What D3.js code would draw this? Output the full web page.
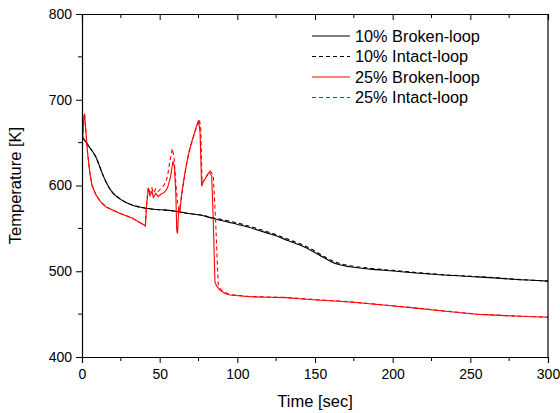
<html>
<head>
<meta charset="utf-8">
<script src="https://cdn.jsdelivr.net/npm/d3@7"></script>
<style>
  body { margin: 0; background: #fff; }
  text { font-family: Arial, "Liberation Sans", sans-serif; fill: #000; }
</style>
</head>
<body>
<div id="chart"></div>
<script>
// time [sec], temperature [K]
var b10 = [[0,657],[2,652],[4.7,645],[7,639],[9,633],[11,624],[13.3,613],[15.5,604],[17.6,597],[20,591],[24,585],[28,580.5],[32.6,577],[37,575],[41.2,573.4],[48,572],[54,571.3],[62,569.5],[70,567],[76,565.6],[84.5,561.5],[95,557],[103.8,553],[115,547],[125.3,541],[133,535.5],[140.3,530.5],[149,522.8],[155,516.5],[160,511.5],[166,507.5],[172.5,505.3],[185,502.5],[200.4,500.3],[215,498],[232.6,495.6],[252,493.6],[265,492.3],[277.7,490.6],[300,488.5]];
var i10 = [[0,657],[2,652],[4.7,645],[7,639],[9,633],[11,624],[13.3,613],[15.5,604],[17.6,597],[20,591],[24,585],[28,580.5],[32.6,577],[37,575],[41.2,573.4],[48,572],[54,571.3],[62,569.5],[70,567],[76,565.8],[84.5,562.3],[95,558.3],[103.8,554.5],[115,548.5],[125.3,542.5],[133,537],[140.3,532],[149,524.5],[155,518],[160,513],[166,509],[172.5,506.5],[185,503.5],[200.4,501],[215,498.6],[232.6,496],[252,494],[265,492.6],[277.7,490.8],[300,488.6]];
var b25 = [[0,400],[0.3,650],[1,675],[1.6,684],[2.3,668],[3.5,640],[5,615],[6.5,600],[9,589],[12,581],[15.5,575],[25,567],[32.6,561.7],[40.8,553],[41.5,575],[42.7,597],[43.8,588],[45,593],[46,586],[47.5,591],[49,587],[51,590],[53,592],[55,597],[57,610],[58.5,628],[59.5,622],[60.4,590],[61,548],[61.5,544],[62.3,574],[63,568],[64,588],[66,612],[68,632],[70,647],[72,659],[74,671],[75,676],[76,662],[77,599],[78,604],[80,610],[82,616],[83.5,611],[84.5,560],[85.6,487],[87,482],[88.8,478],[92,474],[95.3,472.3],[108,470.3],[120,469.6],[131,469.2],[140,468],[151,466.5],[165,465],[174.5,463.8],[187,461.8],[200.4,459.5],[215,457],[230.5,454],[254,449.8],[265,448.8],[277.7,447.8],[300,446.3]];
var i25 = [[0,400],[0.3,650],[1,675],[1.6,684],[2.3,668],[3.5,640],[5,615],[6.5,600],[9,589],[12,581],[15.5,575],[25,567],[32.6,561.7],[40.8,553],[41.5,577],[42.7,598],[43.8,592],[45,597],[46,591],[47.5,596],[49,593],[51,597],[53,601],[55,610],[56.5,628],[58.2,643],[59.3,632],[60.3,605],[61.5,580],[62.6,571],[63.5,580],[65,598],[67,622],[69,640],[71,652],[73,664],[75,673],[75.6,677],[76.5,665],[77.3,603],[78.5,606],[80.5,612],[82.5,617],[84.5,612],[86,560],[87.7,484],[89.2,479],[91,476],[95.3,472.8],[108,470.6],[120,470],[131,469.5],[140,468.3],[151,466.8],[165,465.3],[174.5,464],[187,462],[200.4,459.7],[215,457.2],[230.5,454.2],[254,450],[265,449],[277.7,448],[300,446.4]];

var xTicks = [0, 50, 100, 150, 200, 250, 300];
var yTicks = [400, 500, 600, 700, 800];

var series = [
  { name: "10% Broken-loop", data: b10, color: "#000", dash: null, smooth: true },
  { name: "10% Intact-loop", data: i10, color: "#000", dash: "4,3", smooth: true },
  { name: "25% Broken-loop", data: b25, color: "#ff0000", dash: null, smooth: false },
  { name: "25% Intact-loop", data: i25, color: "#ff0000", dash: "4,3", smooth: false }
];

var W = 560, H = 413;
var m = { left: 82, right: 12, top: 14, bottom: 56 };
var w = W - m.left - m.right, h = H - m.top - m.bottom;

var svg = d3.select("#chart").append("svg")
  .attr("width", W).attr("height", H);

var x = d3.scaleLinear().domain([0, 300]).range([0, w]);
var y = d3.scaleLinear().domain([400, 800]).range([h, 0]);

var g = svg.append("g").attr("transform", "translate(" + m.left + "," + m.top + ")");

svg.append("clipPath").attr("id", "clip")
  .append("rect").attr("width", w).attr("height", h);

// curves
var line = d3.line()
  .x(function(d) { return x(d[0]); })
  .y(function(d) { return y(d[1]); });
var smoothLine = d3.line()
  .curve(d3.curveMonotoneX)
  .x(function(d) { return x(d[0]); })
  .y(function(d) { return y(d[1]); });

g.append("g").attr("clip-path", "url(#clip)")
  .selectAll("path")
  .data(series)
  .enter().append("path")
    .attr("d", function(d) { return d.smooth ? smoothLine(d.data) : line(d.data); })
    .attr("fill", "none")
    .attr("stroke", function(d) { return d.color; })
    .attr("stroke-width", 1.1)
    .attr("stroke-dasharray", function(d) { return d.dash; });

// bottom axis, ticks out
var xAxis = g.append("g").attr("transform", "translate(0," + h + ")")
  .call(d3.axisBottom(x).tickValues(xTicks).tickSize(6).tickPadding(3).tickFormat(d3.format("d")));
xAxis.append("g").selectAll("line")
  .data(d3.range(25, 300, 50))
  .enter().append("line")
    .attr("x1", function(d) { return x(d); }).attr("x2", function(d) { return x(d); })
    .attr("y1", 0).attr("y2", 4).attr("stroke", "#000");

// left axis, ticks out
var yAxis = g.append("g")
  .call(d3.axisLeft(y).tickValues(yTicks).tickSize(6).tickPadding(4).tickFormat(d3.format("d")));
yAxis.append("g").selectAll("line")
  .data([450, 550, 650, 750])
  .enter().append("line")
    .attr("y1", function(d) { return y(d); }).attr("y2", function(d) { return y(d); })
    .attr("x1", 0).attr("x2", -4).attr("stroke", "#000");

// top axis, ticks in, no labels
var topAx = g.append("g")
  .call(d3.axisTop(x).tickValues(xTicks).tickSize(-6).tickFormat(""));
topAx.append("g").selectAll("line")
  .data(d3.range(25, 300, 50))
  .enter().append("line")
    .attr("x1", function(d) { return x(d); }).attr("x2", function(d) { return x(d); })
    .attr("y1", 0).attr("y2", 4).attr("stroke", "#000");

// right axis line only
g.append("line").attr("x1", w).attr("x2", w).attr("y1", 0).attr("y2", h)
  .attr("stroke", "#000").attr("stroke-width", 1.2);

g.selectAll(".domain").attr("stroke", "#000").attr("stroke-width", 1.2);
g.selectAll(".tick text").style("font-size", "14px")
  .style("font-family", "Arial, 'Liberation Sans', sans-serif");
xAxis.selectAll(".tick text").attr("dy", "0.95em");

// axis titles
svg.append("text")
  .attr("x", m.left + w / 2).attr("y", 407)
  .attr("text-anchor", "middle")
  .style("font-size", "16.5px")
  .text("Time [sec]");

svg.append("text")
  .attr("transform", "translate(21," + (m.top + h / 2) + ") rotate(-90)")
  .attr("text-anchor", "middle")
  .style("font-size", "16.5px")
  .text("Temperature [K]");

// legend
var leg = svg.append("g").attr("transform", "translate(312,36)");
var row = leg.selectAll("g").data(series).enter().append("g")
  .attr("transform", function(d, i) { return "translate(0," + (i * 20.5) + ")"; });
row.append("line")
  .attr("x1", 0).attr("x2", 38).attr("y1", 0).attr("y2", 0)
  .attr("stroke", function(d) { return d.color; })
  .attr("stroke-width", 1.1)
  .attr("stroke-dasharray", function(d) { return d.dash; });
row.append("text")
  .attr("x", 43).attr("y", 0).attr("dy", "0.36em")
  .style("font-size", "16.3px")
  .text(function(d) { return d.name; });
</script>
</body>
</html>
